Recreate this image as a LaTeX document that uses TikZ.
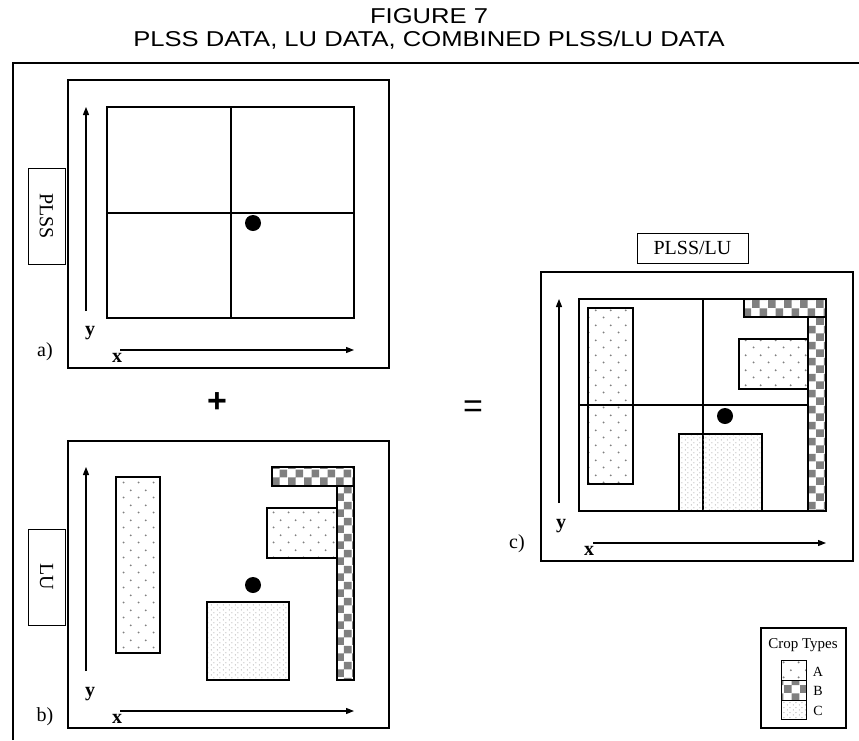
\documentclass[tikz,border=0pt]{standalone}
\usepackage{fontspec}
\setmainfont{Liberation Serif}
\newfontfamily\titlefont{Liberation Sans}
\usetikzlibrary{patterns,arrows.meta}

\pgfdeclarepatternformonly{cropA}{\pgfpointorigin}{\pgfqpoint{15pt}{15pt}}{\pgfqpoint{15pt}{15pt}}{%
  \pgfpathcircle{\pgfqpoint{3.75pt}{3.75pt}}{1.1pt}%
  \pgfpathcircle{\pgfqpoint{11.25pt}{11.25pt}}{1.1pt}%
  \pgfusepath{fill}}
\pgfdeclarepatternformonly{cropB}{\pgfpointorigin}{\pgfqpoint{16pt}{16pt}}{\pgfqpoint{16pt}{16pt}}{%
  \pgfpathrectangle{\pgfpointorigin}{\pgfqpoint{8pt}{8pt}}%
  \pgfpathrectangle{\pgfqpoint{8pt}{8pt}}{\pgfqpoint{8pt}{8pt}}%
  \pgfusepath{fill}}
\pgfdeclarepatternformonly{cropC}{\pgfpointorigin}{\pgfqpoint{6pt}{5pt}}{\pgfqpoint{6pt}{5pt}}{%
  \pgfpathcircle{\pgfqpoint{1.5pt}{1.25pt}}{0.6pt}%
  \pgfpathcircle{\pgfqpoint{4.5pt}{3.75pt}}{0.6pt}%
  \pgfusepath{fill}}

\tikzset{
  panel/.style={draw, line width=1.8pt},
  gridline/.style={line width=1.6pt},
  tagbox/.style={draw, line width=1pt, inner sep=0pt, font=\fontsize{20}{22}\selectfont},
  axis/.style={line width=1.2pt, -{Triangle[length=8pt,width=6pt]}},
  cA/.style={draw, line width=1.3pt, pattern=cropA, pattern color=black!50},
  cB/.style={draw, line width=1.3pt, preaction={fill=white}, pattern=cropB, pattern color=black!50},
  cC/.style={draw, line width=1.3pt, pattern=cropC, pattern color=black!40},
  lbl/.style={font=\fontsize{20}{22}\selectfont, inner sep=0pt, anchor=base},
  axlbl/.style={font=\fontsize{20}{22}\selectfont\bfseries, inner sep=0pt, anchor=base},
  spot/.style={circle, fill=black, inner sep=0pt, minimum size=16pt},
  legtxt/.style={font=\fontsize{14}{16}\selectfont, inner sep=0pt, anchor=base},
  titletxt/.style={font=\titlefont\fontsize{21.5}{24}\selectfont, anchor=base, inner sep=0pt},
}

\begin{document}
\begin{tikzpicture}[x=1pt,y=-1pt]
\useasboundingbox (0,0) rectangle (859,740);
\fill[white] (0,0) rectangle (859,740);

% title
\node[titletxt] (title1) at (429,23) {\scalebox{1.19}[1]{FIGURE 7}};
\node[titletxt] (title2) at (429,46) {\scalebox{1.19}[1]{PLSS DATA, LU DATA, COMBINED PLSS/LU DATA}};

% frame
\coordinate (fr0) at (13,740);
\coordinate (fr1) at (13,63);
\coordinate (fr2) at (859,63);
\draw[line width=1.4pt] (fr0) -- (fr1) -- (fr2);

% ---------- panel a ----------
\draw[panel] (68,80) rectangle (389,368);
\draw[gridline] (107,107) rectangle (354,318);
\draw[gridline] (231,107) -- (231,318) (107,213) -- (354,213);
\node[spot] (dotA) at (253,223) {};
\coordinate (ya0) at (86,311); \coordinate (ya1) at (86,107);
\draw[axis] (ya0) -- (ya1);
\coordinate (xa0) at (120,350); \coordinate (xa1) at (354,350);
\draw[axis] (xa0) -- (xa1);
\node[axlbl] (ylabA) at (90,335) {y};
\node[axlbl] (xlabA) at (117,362) {x};
\node[lbl] (tagA) at (45,356) {a)};
\node[tagbox, rotate=-90, minimum width=96pt, minimum height=37pt] (plss) at (46.5,216) {PLSS};

% plus
\node[font=\titlefont\bfseries\fontsize{34}{36}\selectfont, inner sep=0pt] (plus) at (217,403) {+};

% ---------- panel b ----------
\draw[panel] (68,441) rectangle (389,728);
\draw[cA] (116,477) rectangle (160,653);
\draw[cC] (207,602) rectangle (289,680);
\draw[cA] (267,508) rectangle (337,558);
\draw[cB] (272,467) rectangle (354,486);
\draw[cB] (337,486) rectangle (354,680);
\node[spot] (dotB) at (253,585) {};
\coordinate (yb0) at (86,671); \coordinate (yb1) at (86,467);
\draw[axis] (yb0) -- (yb1);
\coordinate (xb0) at (120,711); \coordinate (xb1) at (354,711);
\draw[axis] (xb0) -- (xb1);
\node[axlbl] (ylabB) at (90,696) {y};
\node[axlbl] (xlabB) at (117,723) {x};
\node[lbl] (tagB) at (45,721) {b)};
\node[tagbox, rotate=-90, minimum width=96pt, minimum height=37pt] (lu) at (46.5,577) {LU};

% equals
\node[font=\titlefont\fontsize{34}{36}\selectfont, inner sep=0pt] (equals) at (473,409) {=};

% ---------- panel c ----------
\node[tagbox, minimum width=111pt, minimum height=30pt] (plsslu) at (692.5,248) {PLSS/LU};
\draw[panel] (541,272) rectangle (853,561);
\draw[gridline] (579,299) rectangle (826,511);
\draw[gridline] (703,299) -- (703,511) (579,405) -- (826,405);
\draw[cA] (588,308) rectangle (633,484);
\draw[cA] (739,339) rectangle (808,389);
\draw[cC] (679,434) rectangle (762,511);
\draw[cB] (744,299) rectangle (826,317);
\draw[cB] (808,317) rectangle (826,511);
\node[spot] (dotC) at (725,416) {};
\coordinate (yc0) at (559,503); \coordinate (yc1) at (559,299);
\draw[axis] (yc0) -- (yc1);
\coordinate (xc0) at (593,543); \coordinate (xc1) at (826,543);
\draw[axis] (xc0) -- (xc1);
\node[axlbl] (ylabC) at (561,528) {y};
\node[axlbl] (xlabC) at (589,555) {x};
\node[lbl] (tagC) at (517,548) {c)};

% ---------- legend ----------
\draw[line width=1.3pt] (761,628) rectangle (846,728);
\node[font=\fontsize{15}{17}\selectfont, inner sep=0pt, anchor=base] (legtitle) at (803,648) {Crop Types};
\draw[cA, line width=1pt] (781,660) rectangle (806,680);
\draw[cB, line width=1pt] (781,680) rectangle (806,700);
\draw[cC, line width=1pt] (781,700) rectangle (806,719);
\node[legtxt] (legA) at (818,676) {A};
\node[legtxt] (legB) at (818,695) {B};
\node[legtxt] (legC) at (818,715) {C};
\end{tikzpicture}
\end{document}
